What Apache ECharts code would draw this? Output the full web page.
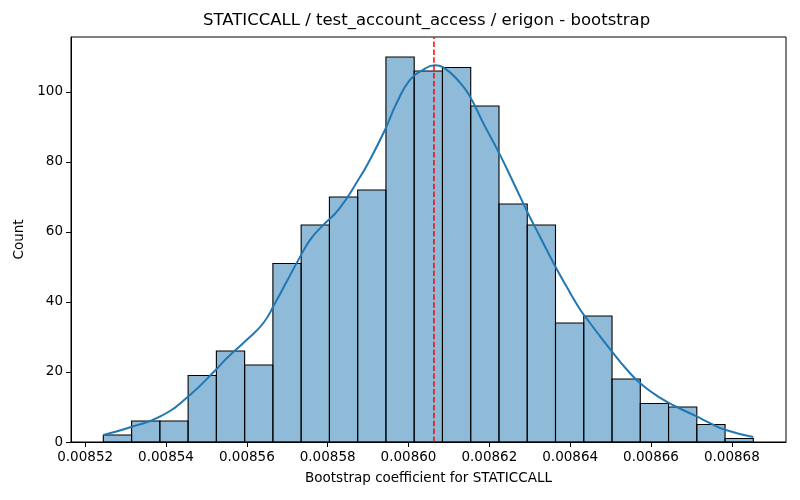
<!DOCTYPE html>
<html>
<head>
<meta charset="utf-8">
<script src="https://cdn.jsdelivr.net/npm/echarts@6/dist/echarts.min.js"></script>
<style>
  html, body { margin: 0; padding: 0; background: #fff; }
  #main { width: 800px; height: 500px; }
</style>
</head>
<body>
<div id="main"></div>
<script>
// histogram bins
var binStart = 0.0085245;
var binWidth = 0.000006992;
var counts = [2, 6, 6, 19, 26, 22, 51, 62, 70, 72, 110, 106, 107, 96, 68, 62, 34, 36, 18, 11, 10, 5, 1];

// kde curve
var kdeX = [0.0085245, 0.0085314, 0.0085386, 0.0085455, 0.0085524, 0.0085551, 0.00856, 0.0085641,
  0.008567, 0.0085699, 0.0085728, 0.0085757, 0.008579, 0.0085827, 0.0085876, 0.0085905, 0.0085942,
  0.0085971, 0.0086004, 0.0086037, 0.0086066, 0.0086086, 0.0086128, 0.0086153, 0.0086185, 0.0086223,
  0.008626, 0.0086295, 0.0086326, 0.0086363, 0.00864, 0.0086425, 0.0086449, 0.0086474, 0.0086503,
  0.008654, 0.0086577, 0.0086623, 0.0086664, 0.0086713, 0.0086746, 0.0086783, 0.0086853];
var kdeY = [2.0, 4.3, 7.3, 13, 20.7, 24, 29.2, 34,
  39.7, 45.9, 52.1, 57.8, 62.1, 66.4, 74.9, 80.7, 89.2,
  96.9, 103.5, 106.4, 107.6, 107, 102.6, 98.5, 91.1, 82.8,
  74, 65.5, 58.5, 50.2, 42.6, 37.8, 34, 30.2, 25.9,
  20.7, 16.4, 12.6, 10, 7.3, 5.4, 3.5, 1.4];

// mean marker
var meanValue = 0.0086063;

var xTicks = [0.00852, 0.00854, 0.00856, 0.00858, 0.00860, 0.00862, 0.00864, 0.00866, 0.00868];
var yTicks = [0, 20, 40, 60, 80, 100];

var titleText = 'STATICCALL / test_account_access / erigon - bootstrap';
var xName = 'Bootstrap coefficient for STATICCALL';
var yName = 'Count';

var font = 'DejaVu Sans';
var yMax = 115.7;

var barData = counts.map(function (c, i) {
  return [binStart + i * binWidth, binStart + (i + 1) * binWidth, c];
});
var kdeData = kdeX.map(function (x, i) {
  return [x, kdeY[i]];
});

var chart = echarts.init(document.getElementById('main'));

var option = {
  animation: false,
  grid: {
    left: 71,
    right: 14,
    top: 37,
    bottom: 58,
    show: true,
    borderColor: '#000',
    borderWidth: 1,
    containLabel: false
  },
  graphic: [{
    type: 'text',
    left: 428 - 225,
    top: 12,
    style: {
      text: titleText,
      fontFamily: font,
      fontSize: 16.5,
      fill: '#000'
    }
  }],
  xAxis: {
    type: 'value',
    min: 0.0085165,
    max: 0.0086934,
    name: xName,
    nameLocation: 'middle',
    nameGap: 29,
    nameTextStyle: { fontFamily: font, fontSize: 13.5, color: '#000' },
    splitLine: { show: false },
    axisLine: { show: true, onZero: false, lineStyle: { color: '#000', width: 1 } },
    axisTick: { show: true, length: 5, lineStyle: { color: '#000' }, customValues: xTicks },
    axisLabel: {
      margin: 8,
      fontFamily: font,
      fontSize: 13.5,
      color: '#000',
      customValues: xTicks,
      formatter: function (v) { return v.toFixed(5); }
    }
  },
  yAxis: {
    type: 'value',
    min: 0,
    max: yMax,
    name: yName,
    nameLocation: 'middle',
    nameGap: 42,
    nameTextStyle: { fontFamily: font, fontSize: 13.5, color: '#000' },
    splitLine: { show: false },
    axisLine: { show: true, lineStyle: { color: '#000', width: 1 } },
    axisTick: { show: true, length: 5, lineStyle: { color: '#000' }, customValues: yTicks },
    axisLabel: {
      margin: 8,
      fontFamily: font,
      fontSize: 13.5,
      color: '#000',
      customValues: yTicks
    }
  },
  series: [{
    type: 'custom',
    data: barData,
    encode: { x: [0, 1], y: 2 },
    renderItem: function (params, api) {
      var p0 = api.coord([api.value(0), api.value(2)]);
      var p1 = api.coord([api.value(1), 0]);
      return {
        type: 'rect',
        shape: { x: p0[0], y: p0[1], width: p1[0] - p0[0], height: p1[1] - p0[1] },
        style: { fill: 'rgba(31,119,180,0.5)', stroke: '#000', lineWidth: 1.1 }
      };
    },
    z: 2
  }, {
    type: 'line',
    data: kdeData,
    smooth: 0.5,
    showSymbol: false,
    lineStyle: { color: '#1f77b4', width: 2 },
    z: 3
  }, {
    // dashed mean line
    type: 'line',
    data: [[meanValue, 0], [meanValue, yMax]],
    showSymbol: false,
    lineStyle: { color: '#ff0000', type: [5.5, 2.4], width: 1.5 },
    z: 4
  }]
};

chart.setOption(option);
</script>
</body>
</html>
